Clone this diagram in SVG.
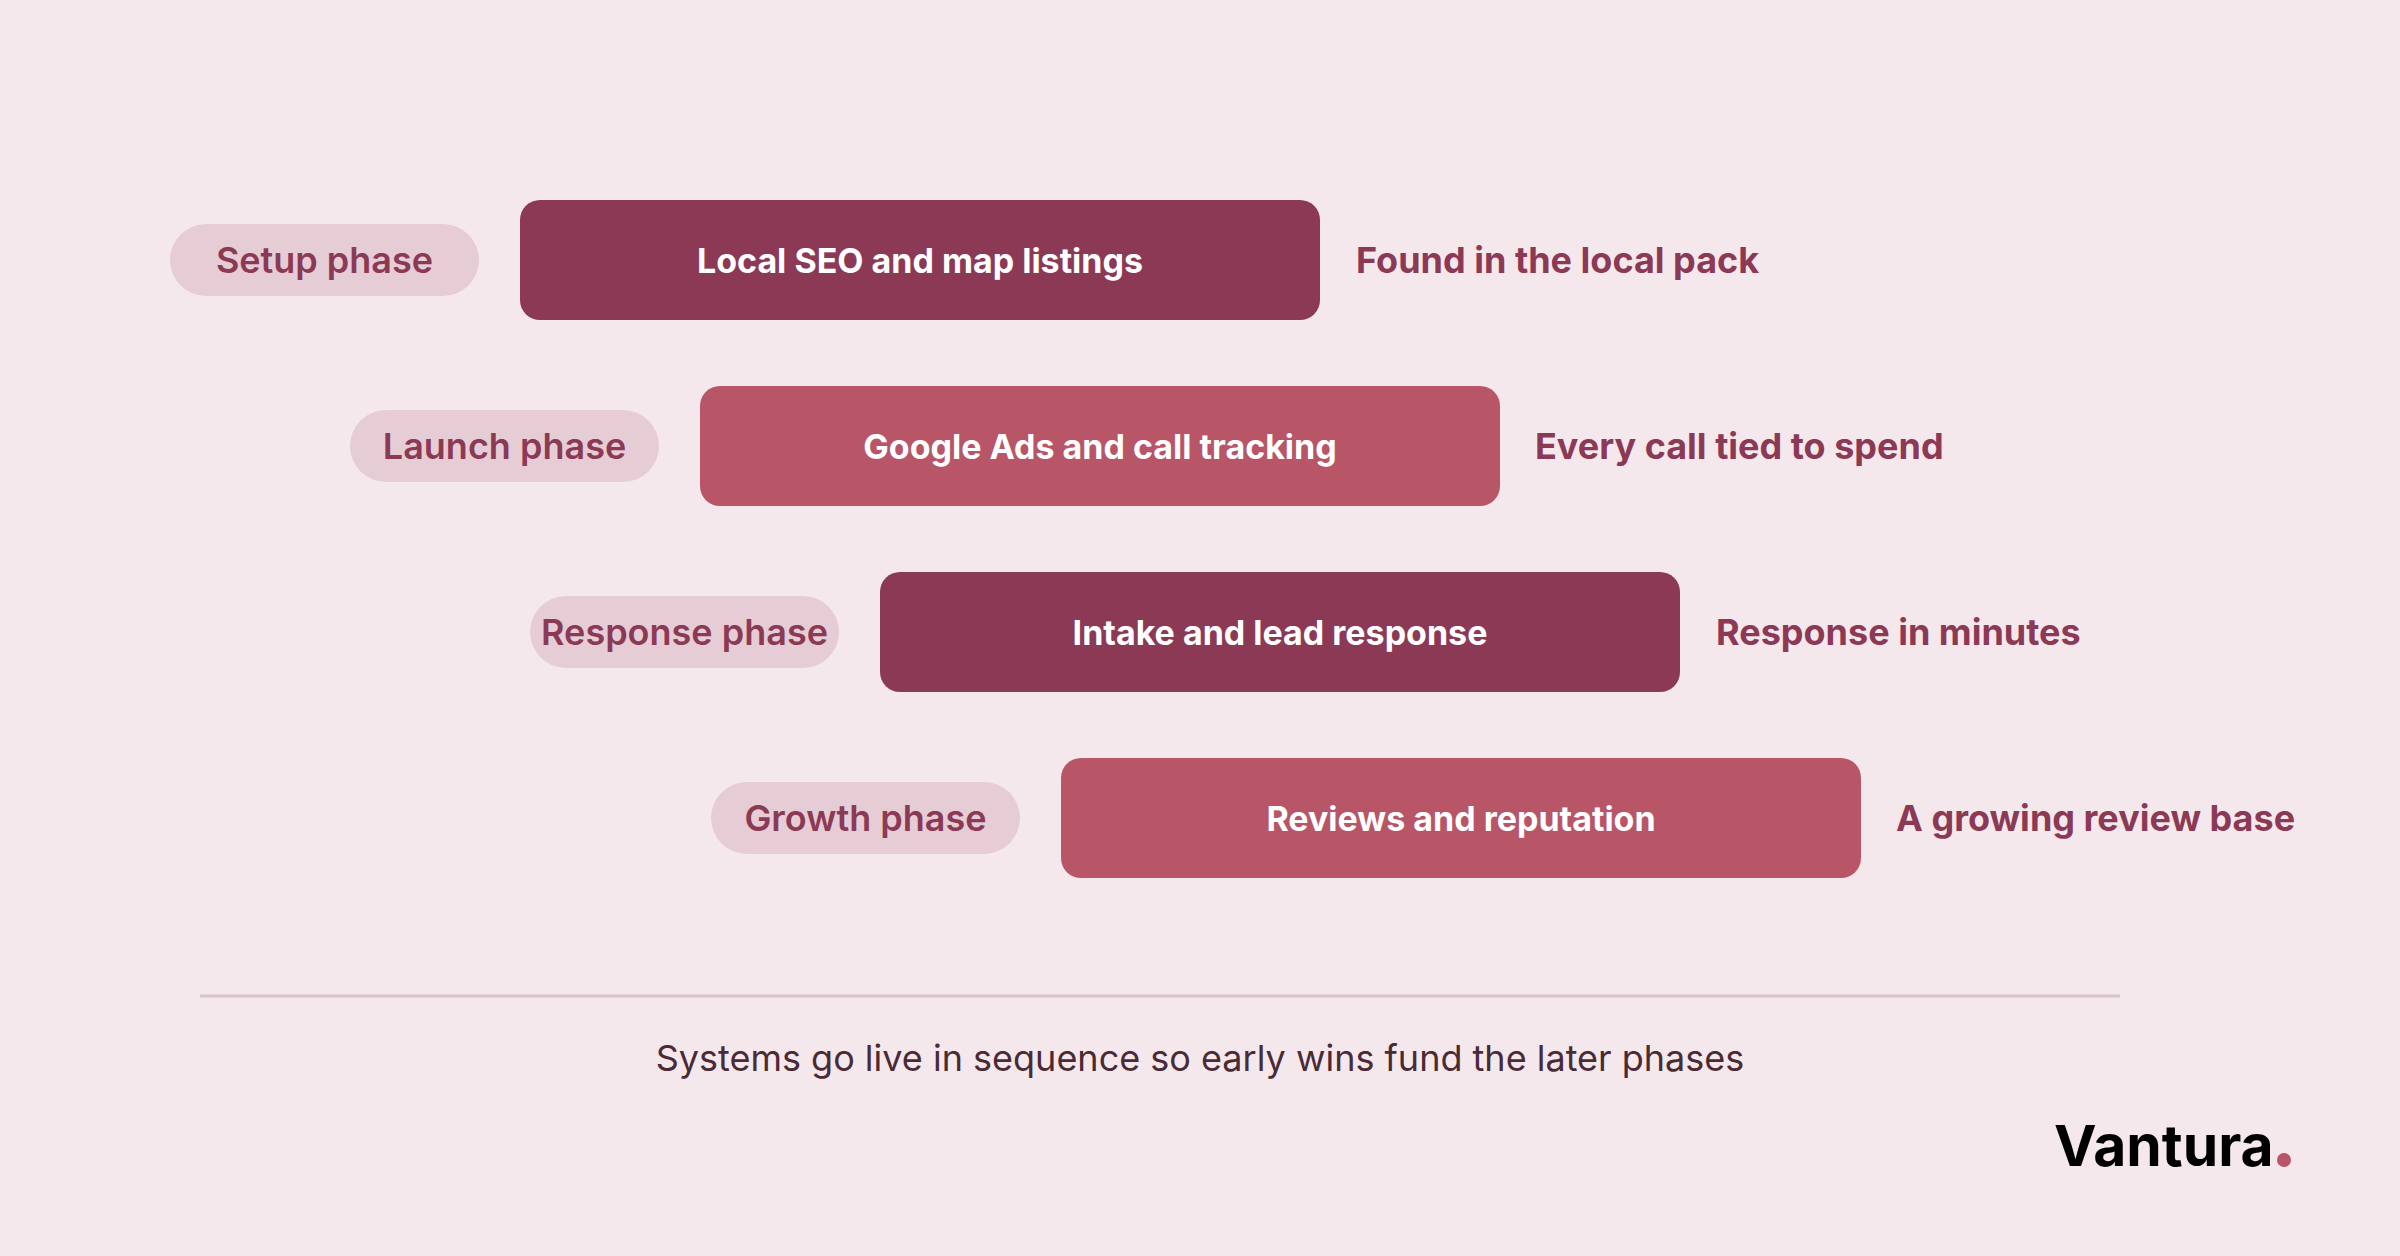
<svg xmlns="http://www.w3.org/2000/svg" width="2400" height="1256" viewBox="0 0 2400 1256">
<style>
.pill{fill:#e6cdd5}
.pt{font-family:Inter,"Liberation Sans",sans-serif;font-weight:600;font-size:36px;fill:#8c3956;text-anchor:middle;dominant-baseline:central}
.dark{fill:#8c3956}
.light{fill:#b85566}
.bt{font-family:Inter,"Liberation Sans",sans-serif;font-weight:700;font-size:34px;fill:#ffffff;text-anchor:middle;dominant-baseline:central}
.ot{font-family:Inter,"Liberation Sans",sans-serif;font-weight:700;font-size:36px;fill:#8c3956;dominant-baseline:central}
</style>
<rect width="2400" height="1256" fill="#f5e8ec"/>
<g id="row1">
<rect class="pill" x="170" y="224" width="309" height="72" rx="36"/>
<text class="pt" x="324.5" y="260">Setup phase</text>
<rect class="dark" x="520" y="200" width="800" height="120" rx="20"/>
<text class="bt" x="920" y="260">Local SEO and map listings</text>
<text class="ot" x="1356" y="260">Found in the local pack</text>
</g>
<g id="row2">
<rect class="pill" x="350" y="410" width="309" height="72" rx="36"/>
<text class="pt" x="504.5" y="446">Launch phase</text>
<rect class="light" x="700" y="386" width="800" height="120" rx="20"/>
<text class="bt" x="1100" y="446">Google Ads and call tracking</text>
<text class="ot" x="1535" y="446">Every call tied to spend</text>
</g>
<g id="row3">
<rect class="pill" x="530" y="596" width="309" height="72" rx="36"/>
<text class="pt" x="684.5" y="632">Response phase</text>
<rect class="dark" x="880" y="572" width="800" height="120" rx="20"/>
<text class="bt" x="1280" y="632">Intake and lead response</text>
<text class="ot" x="1716" y="632">Response in minutes</text>
</g>
<g id="row4">
<rect class="pill" x="711" y="782" width="309" height="72" rx="36"/>
<text class="pt" x="865.5" y="818">Growth phase</text>
<rect class="light" x="1061" y="758" width="800" height="120" rx="20"/>
<text class="bt" x="1461" y="818">Reviews and reputation</text>
<text class="ot" x="1896" y="818">A growing review base</text>
</g>
<g id="connectors"></g>
<line x1="200" y1="996" x2="2120" y2="996" stroke="#dcc3cc" stroke-width="3"/>
<text x="1200" y="1058" font-family="Inter,'Liberation Sans',sans-serif" font-size="36" fill="#4a2a35" text-anchor="middle" dominant-baseline="central">Systems go live in sequence so early wins fund the later phases</text>
<text x="2054" y="1166" font-family="Inter,'Liberation Sans',sans-serif" font-weight="700" font-size="57" fill="#000">Vantura</text>
<circle cx="2284" cy="1160" r="7" fill="#b85566"/>
</svg>
